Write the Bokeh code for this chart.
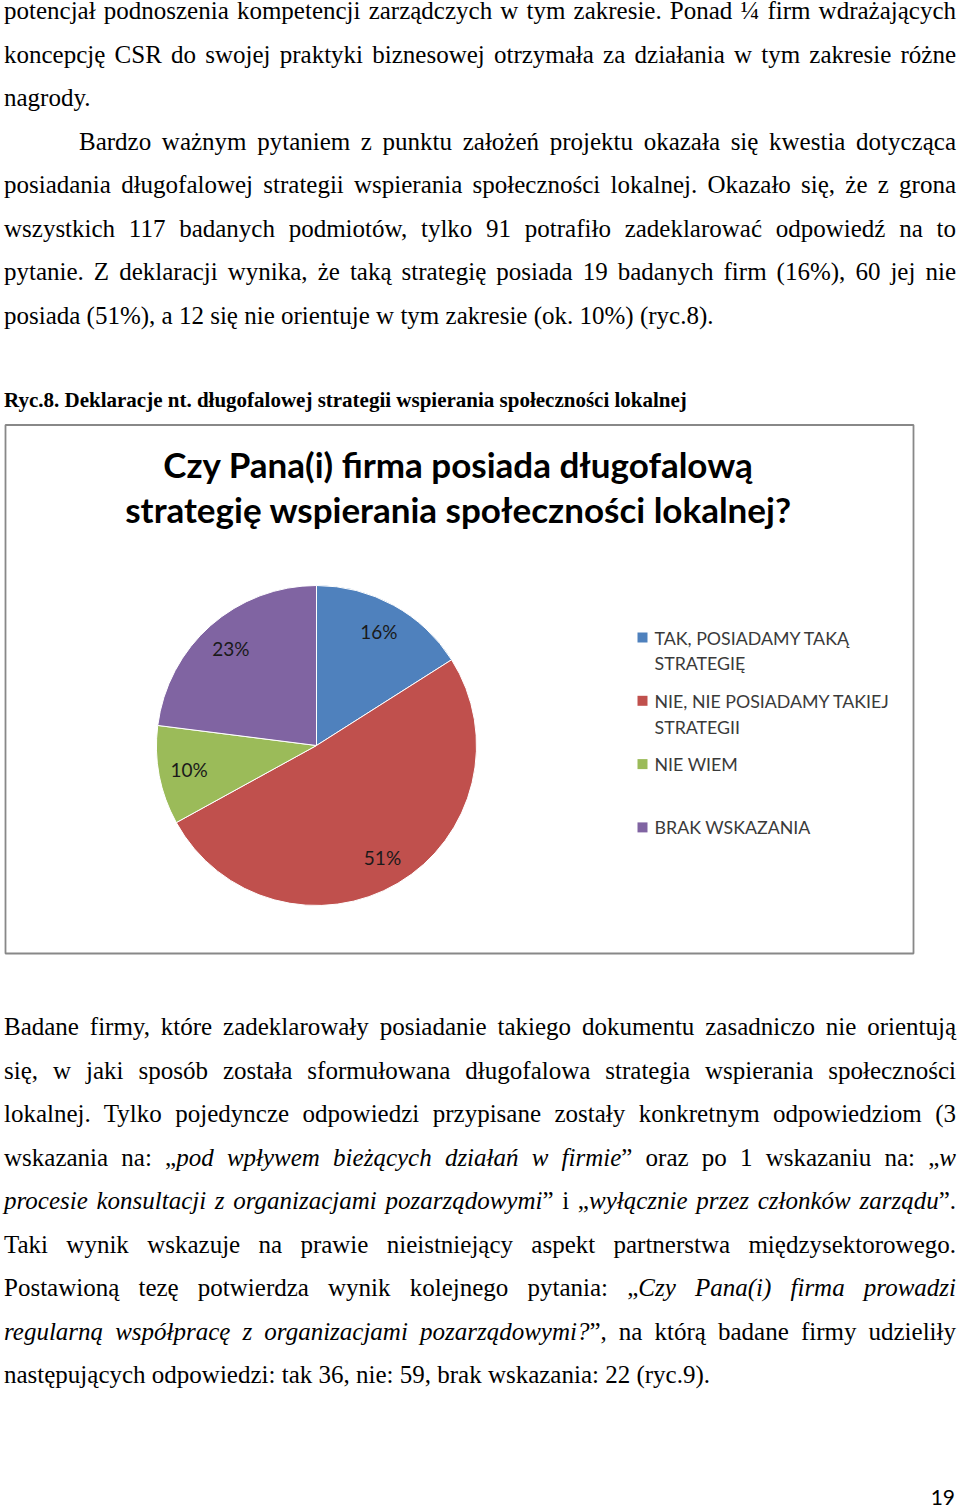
import math
from bokeh.plotting import figure
from bokeh.models import Range1d, Div, ColumnDataSource
from bokeh.layouts import column
from bokeh.embed import file_html
from bokeh.resources import INLINE
from bokeh.core.properties import value

# ---------------- data ----------------
categories = ["TAK, POSIADAMY TAKĄ STRATEGIĘ", "NIE, NIE POSIADAMY TAKIEJ STRATEGII",
              "NIE WIEM", "BRAK WSKAZANIA"]
legend_labels = ["TAK, POSIADAMY TAKĄ\nSTRATEGIĘ", "NIE, NIE POSIADAMY TAKIEJ\nSTRATEGII",
                 "NIE WIEM", "BRAK WSKAZANIA"]
shares = [16, 51, 10, 23]
colors = ["#4F81BD", "#C0504D", "#9BBB59", "#8064A2"]
chart_title = ["Czy Pana(i) firma posiada długofalową",
               "strategię wspierania społeczności lokalnej?"]
caption = "Ryc.8. Deklaracje nt. długofalowej strategii wspierania społeczności lokalnej"
page_number = "19"

# (html, justify, indent)
top_lines = [
    ("potencjał podnoszenia kompetencji zarządczych w tym zakresie. Ponad ¼ firm wdrażających", True, 0),
    ("koncepcję CSR do swojej praktyki biznesowej otrzymała za działania w tym zakresie różne", True, 0),
    ("nagrody.", False, 0),
    ("Bardzo ważnym pytaniem z punktu założeń projektu okazała się kwestia dotycząca", True, 75),
    ("posiadania długofalowej strategii wspierania społeczności lokalnej. Okazało się, że z grona", True, 0),
    ("wszystkich 117 badanych podmiotów, tylko 91 potrafiło zadeklarować odpowiedź na to", True, 0),
    ("pytanie. Z deklaracji wynika, że taką strategię posiada 19 badanych firm (16%), 60 jej nie", True, 0),
    ("posiada (51%), a 12 się nie orientuje w tym zakresie (ok. 10%) (ryc.8).", False, 0),
]
bottom_lines = [
    ("Badane firmy, które zadeklarowały posiadanie takiego dokumentu zasadniczo nie orientują", True, 0),
    ("się, w jaki sposób została sformułowana długofalowa strategia wspierania społeczności", True, 0),
    ("lokalnej. Tylko pojedyncze odpowiedzi przypisane zostały konkretnym odpowiedziom (3", True, 0),
    ("wskazania na: „<i>pod wpływem bieżących działań w firmie</i>” oraz po 1 wskazaniu na: „<i>w</i>", True, 0),
    ("<i>procesie konsultacji z organizacjami pozarządowymi</i>” i „<i>wyłącznie przez członków zarządu</i>”.", True, 0),
    ("Taki wynik wskazuje na prawie nieistniejący aspekt partnerstwa międzysektorowego.", True, 0),
    ("Postawioną tezę potwierdza wynik kolejnego pytania: „<i>Czy Pana(i) firma prowadzi</i>", True, 0),
    ("<i>regularną współpracę z organizacjami pozarządowymi?</i>”, na którą badane firmy udzieliły", True, 0),
    ("następujących odpowiedzi: tak 36, nie: 59, brak wskazania: 22 (ryc.9).", False, 0),
]

# ---------------- text blocks ----------------
SERIF = "'Liberation Serif','Times New Roman',serif"
FS = 25
LH = 43.5
W = 958


def line_html(html, top, justify, indent):
    st = (f"position:absolute;left:4px;top:{top}px;width:952px;height:{LH}px;"
          f"line-height:{LH}px;font-family:{SERIF};font-size:{FS}px;color:#000;")
    if justify:
        st += "text-align:justify;text-align-last:justify;"
    else:
        st += "text-align:left;"
    if indent:
        st += f"text-indent:{indent}px;"
    return f'<div style="{st}">{html}</div>'


top_h = 418
parts = []
for i, (h, j, ind) in enumerate(top_lines):
    parts.append(line_html(h, -11 + i * LH, j, ind))
parts.append(
    f'<div style="position:absolute;left:4px;top:388px;line-height:24px;white-space:nowrap;'
    f'font-family:{SERIF};font-size:21px;font-weight:bold;color:#000;">{caption}</div>')
top_div = Div(text=f'<div style="position:relative;width:{W}px;height:{top_h}px;">' + "".join(parts) + "</div>",
              width=W, height=top_h, margin=0)

bot_h = 542
parts = []
for i, (h, j, ind) in enumerate(bottom_lines):
    parts.append(line_html(h, 42 + i * LH, j, ind))
parts.append(
    f'<div style="position:absolute;left:895px;top:522px;width:60px;text-align:right;line-height:24px;'
    f'font-family:Lato,sans-serif;font-size:21px;color:#000;">{page_number}</div>')
bot_div = Div(text=f'<div style="position:relative;width:{W}px;height:{bot_h}px;">' + "".join(parts) + "</div>",
              width=W, height=bot_h, margin=0)

# ---------------- chart ----------------
p = figure(width=W, height=545, x_range=Range1d(0, W), y_range=Range1d(-963, -418),
           output_backend="svg", toolbar_location=None, min_border=0,
           x_axis_location=None, y_axis_location=None, outline_line_color=None,
           background_fill_color="white", border_fill_color="white", margin=0)
p.grid.visible = False

# chart frame
p.quad(left=[5], right=[913], top=[-424.5], bottom=[-953], fill_color=None,
       line_color="#888888", line_width=1.8)

# title
p.text(x=[458, 458], y=[-463, -508], text=chart_title, text_align="center",
       text_baseline="middle", text_font=value("Lato"), text_font_style="bold",
       text_font_size="35px", text_color="#000000")

# pie
cx, cy, R = 316, -745, 160
total = float(sum(shares))
cum_before, cum_after = [], []
c = 0.0
for s in shares:
    cum_before.append(c)
    c += s / total
    cum_after.append(c)
start = [math.pi / 2 - 2 * math.pi * a for a in cum_after]
end = [math.pi / 2 - 2 * math.pi * b for b in cum_before]
mid = [(a + b) / 2 for a, b in zip(start, end)]
src = ColumnDataSource(dict(cat=categories, start=start, end=end, color=colors,
                            lx=[cx + 0.81 * R * math.cos(m) for m in mid],
                            ly=[cy + 0.81 * R * math.sin(m) for m in mid],
                            lab=[f"{v}%" for v in shares]))
p.wedge(x=cx, y=cy, radius=R, start_angle="start", end_angle="end", fill_color="color",
        line_color="white", line_width=1, source=src)
p.text(x="lx", y="ly", text="lab", source=src, text_align="center", text_baseline="middle",
       text_font=value("Lato"), text_font_size="19px", text_color="#1a1a1a")

# legend (manual)
ly0, lstep = -637, -63.3
leg = ColumnDataSource(dict(y=[ly0 + i * lstep for i in range(len(categories))],
                            ty=[ly0 + i * lstep + 11 for i in range(len(categories))],
                            color=colors, lab=legend_labels))
p.rect(x=642, y="y", width=10, height=10, fill_color="color", line_color=None, source=leg)
p.text(x=654, y="ty", text="lab", source=leg, text_align="left", text_baseline="top",
       text_line_height=1.17, text_font=value("Lato"), text_font_size="17.8px",
       text_color="#3a3a3a")

layout = column(top_div, p, bot_div, spacing=0, margin=0)
open("out.html", "w").write(file_html(layout, INLINE))
